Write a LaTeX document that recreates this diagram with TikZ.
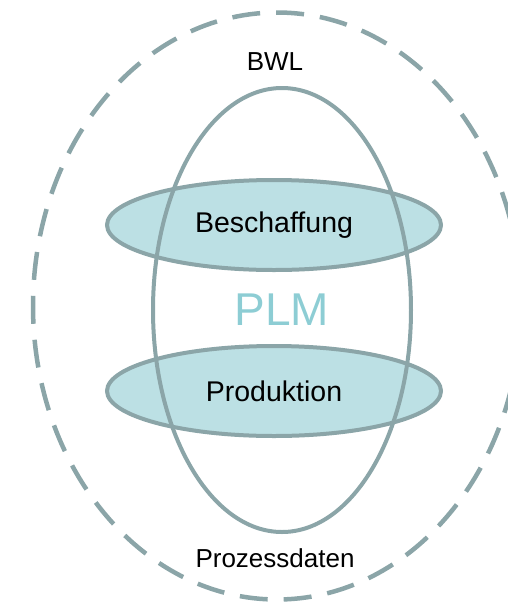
\documentclass[tikz,border=0pt]{standalone}
\usepackage{fontspec}
\setmainfont{Liberation Sans}
\usepackage{tikz}
\definecolor{plmline}{HTML}{8BA5A8}
\definecolor{plmfill}{HTML}{BCE0E4}
\definecolor{plmtext}{HTML}{8DCDD4}
\usetikzlibrary{positioning, shapes.geometric}

\begin{document}
\begin{tikzpicture}[x=1pt, y=-1pt]
                    \tikzstyle{every node}=[font=\fontsize{26}{30}\selectfont]
                    \tikzstyle{area} = [ellipse, draw=plmline, line width=4pt, fill=plmfill, minimum width=334pt, minimum height=90pt, inner sep=0pt, font=\fontsize{28.5}{32}\selectfont]
                    \tikzstyle{core} = [ellipse, draw=plmline, line width=4pt, minimum width=258pt, minimum height=444pt, inner sep=0pt, text=plmtext, font=\fontsize{46}{50}\selectfont]
                    \tikzstyle{outerring} = [ellipse, draw=plmline, line width=4.5pt, dash pattern=on 28pt off 16pt, minimum width=488pt, minimum height=587pt]
                    \tikzstyle{lbl} = [draw=none, inner sep=0pt]

                    \useasboundingbox (0,0) rectangle (507,603);

                    \node[outerring](bwl) at (277,306) {};
                    \node[area](besch) at (274,225) {Beschaffung};
                    \node[area](prod) at (274,391) {Produktion};
                    \node[core](plm) at (282,310) {PLM};
                    \node[lbl](top) at (275,62) {BWL};
                    \node[lbl](bottom) at (275,558) {Prozessdaten};

            \end{tikzpicture}
\end{document}
